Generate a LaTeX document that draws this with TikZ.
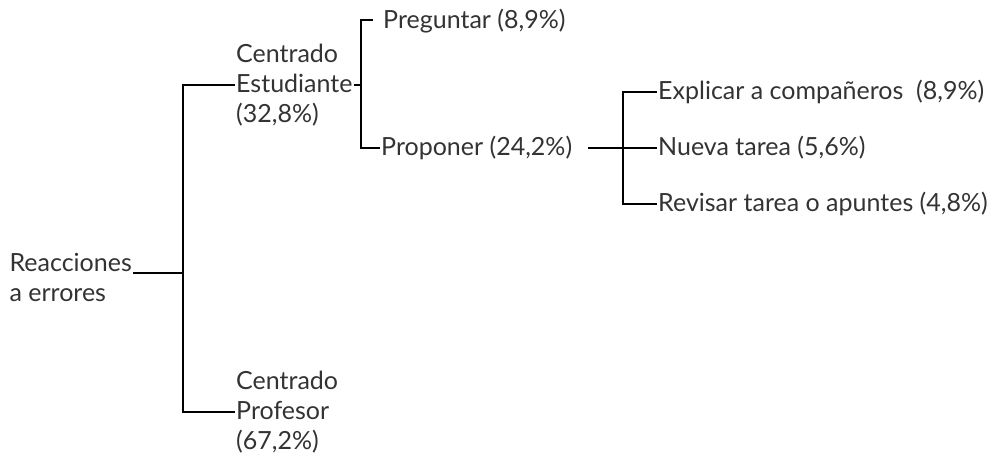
\documentclass[tikz,border=0pt]{standalone}
\usepackage{fontspec}
\setmainfont{Lato}
\begin{document}
\begin{tikzpicture}[x=1pt,y=-1pt,
  lbl/.style={inner sep=1pt,align=left,font=\fontsize{25}{30}\selectfont,text=black!80},
  ln/.style={line width=2.3pt,black}]
\useasboundingbox (0,0) rectangle (992,464);
\node[lbl,anchor=east] (root) at (133,277) {Reacciones\\a errores};
\coordinate (j1) at (183,273);
\node[lbl,anchor=west] (est) at (235,85) {Centrado\\Estudiante\\(32,8\%)};
\node[lbl,anchor=west] (prof) at (235,412) {Centrado\\Profesor\\(67,2\%)};
\coordinate (j2) at (361,85);
\coordinate (pt) at (373,20);
\node[lbl,anchor=west] (preg) at (382,21) {Preguntar (8,9\%)};
\node[lbl,anchor=west] (prop) at (380,148) {Proponer (24,2\%)};
\coordinate (p3) at (588,148);
\coordinate (j3) at (623,148);
\node[lbl,anchor=west] (expl) at (657,92) {Explicar a compañeros\ \ (8,9\%)};
\node[lbl,anchor=west] (nueva) at (657,148) {Nueva tarea (5,6\%)};
\node[lbl,anchor=west] (rev) at (657,204) {Revisar tarea o apuntes (4,8\%)};
\draw[ln] (root.east |- j1) -- (j1);
\draw[ln] (est.west) -| (j1) |- (prof.west);
\draw[ln] (est.east) -- (j2);
\draw[ln] (pt) -| (j2) |- (prop.west);
\draw[ln] (p3) -- (nueva.west);
\draw[ln] (expl.west) -| (j3) |- (rev.west);
\end{tikzpicture}
\end{document}
